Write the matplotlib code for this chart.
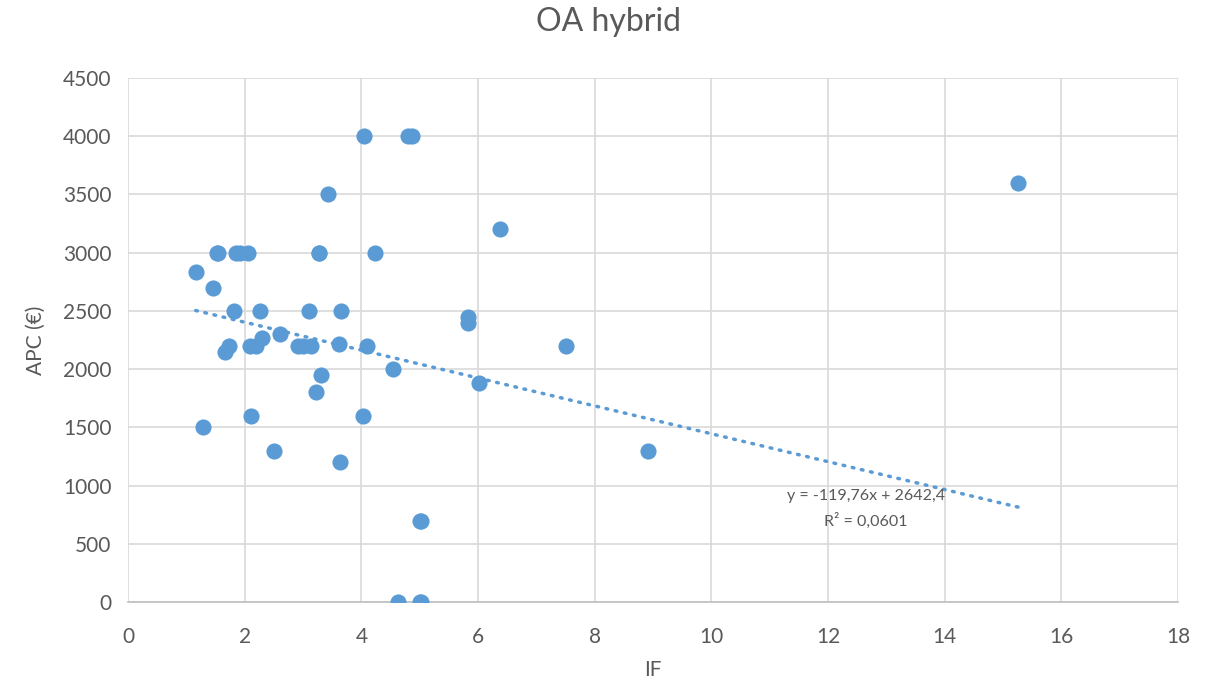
import matplotlib
matplotlib.use('Agg')
import matplotlib.pyplot as plt
import numpy as np

plt.rcParams['font.family'] = ['Lato', 'DejaVu Sans']

# IF vs APC
impact_factor = [1.16, 1.46, 1.29, 1.52, 1.55, 1.85, 1.92, 2.06, 3.27, 4.23,
                 1.81, 2.26, 3.10, 3.65, 2.29, 2.61, 1.73, 1.66, 2.09, 2.19,
                 2.92, 3.00, 3.14, 3.62, 4.10, 4.54, 3.30, 3.22, 2.10, 4.03,
                 2.50, 3.63, 4.05, 4.80, 4.87, 3.43, 3.28, 6.38, 5.82, 5.83,
                 7.50, 6.02, 8.91, 15.26, 5.02, 5.00, 4.63, 5.02, 5.00]
apc = [2835, 2700, 1500, 3000, 3000, 3000, 3000, 3000, 3000, 3000,
       2500, 2500, 2500, 2500, 2270, 2300, 2200, 2150, 2200, 2200,
       2200, 2200, 2200, 2220, 2200, 2000, 1950, 1800, 1600, 1600,
       1300, 1200, 4000, 4000, 4000, 3500, 3000, 3200, 2450, 2400,
       2200, 1880, 1300, 3600, 700, 700, 0, 0, 0]

# trendline from the chart label
slope = -119.76
intercept = 2642.4
r2_text = 'R² = 0,0601'

blue = '#5b9bd5'
grey = '#595959'
fig = plt.figure(figsize=(12.16, 6.86), dpi=100)
ax = fig.add_axes([0.1053, 0.1224, 0.8635, 0.7639])

ax.scatter(impact_factor, apc, s=135, color=blue, zorder=3, linewidths=0)

xs = np.array([min(impact_factor), max(impact_factor)])
ax.plot(xs, slope * xs + intercept, color=blue, lw=2.5, ls=(0, (0.5, 2.2)),
        dash_capstyle='round', zorder=2)

ax.set_xlim(0, 18)
ax.set_ylim(0, 4500)
ax.set_xticks(range(0, 19, 2))
ax.set_yticks(range(0, 4501, 500))
ax.grid(True, color='#d9d9d9', lw=1.2)
ax.set_axisbelow(True)
for side in ['top', 'right', 'left']:
    ax.spines[side].set_visible(False)
ax.spines['bottom'].set_color('#bfbfbf')
ax.spines['bottom'].set_linewidth(1.2)
ax.tick_params(length=0, labelsize=15, colors=grey)
ax.tick_params(axis='x', pad=18)
ax.tick_params(axis='y', pad=12)

ax.set_xlabel('IF', fontsize=15, color=grey, labelpad=9)
ax.set_ylabel('APC (€)', fontsize=15, color=grey, labelpad=12)
fig.text(0.5, 0.968, 'OA hybrid', ha='center', va='center', fontsize=23, color=grey)

ax.text(14.0, 800, 'y = -119,76x + 2642,4\n' + r2_text, ha='right', va='center',
        multialignment='center', fontsize=11.5, color=grey, linespacing=1.75)

fig.savefig('out.png', dpi=100)
